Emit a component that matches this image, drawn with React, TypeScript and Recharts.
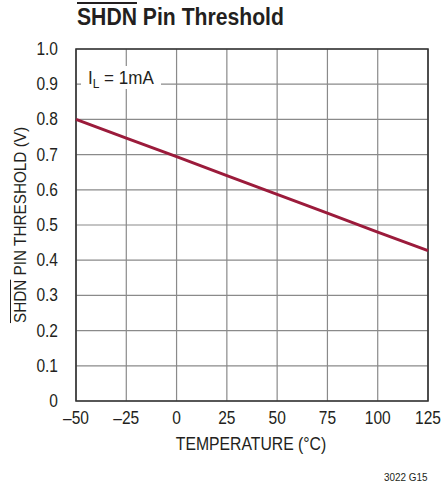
import React from "react";
import { LineChart, Line, XAxis, YAxis, CartesianGrid, ReferenceArea } from "recharts";

const temps = [-50, -25, 0, 25, 50, 75, 100, 125];
const threshold = [0.8, 0.747, 0.694, 0.64, 0.587, 0.534, 0.48, 0.427];
const xTicks = [-50, -25, 0, 25, 50, 75, 100, 125];
const yTicks = [0, 0.1, 0.2, 0.3, 0.4, 0.5, 0.6, 0.7, 0.8, 0.9, 1.0];

const data = temps.map((t, i) => ({ t, v: threshold[i] }));

const FONT = '"Liberation Sans", Arial, sans-serif';
const INK = "#231f20";
const SQUEEZE = 0.84;

const fmtX = (v: number) => (v < 0 ? "\u2013" + Math.abs(v) : String(v));
const fmtY = (v: number) => (v === 0 ? "0" : v.toFixed(1));

// condensed tick text, the font in the original is a narrow sans
function XTick(props: any) {
  const { x, y, payload } = props;
  return (
    <g transform={`translate(${x},${y})`}>
      <text transform={`scale(${SQUEEZE},1)`} textAnchor="middle" dy={14} fill={INK} fontSize={18.5} fontFamily={FONT}>
        {fmtX(payload.value)}
      </text>
    </g>
  );
}

function YTick(props: any) {
  const { x, y, payload } = props;
  return (
    <g transform={`translate(${x},${y})`}>
      <text transform={`scale(${SQUEEZE},1)`} textAnchor="end" dy={6} fill={INK} fontSize={18.5} fontFamily={FONT}>
        {fmtY(payload.value)}
      </text>
    </g>
  );
}

export default function App() {
  return (
    <div style={{ position: "absolute", left: 0, top: 0, width: 443, height: 487, background: "#fff", fontFamily: FONT, color: INK }}>
      <LineChart width={443} height={487} data={data} margin={{ top: 49, right: 15, left: 0, bottom: 0 }}>
        <CartesianGrid stroke="#8a8a8a" strokeWidth={1.2} vertical horizontal />
        <XAxis
          dataKey="t"
          type="number"
          domain={[-50, 125]}
          ticks={xTicks}
          height={86}
          axisLine={false}
          tickLine={false}
          tickMargin={3}
          tick={<XTick />}
        />
        <YAxis
          type="number"
          domain={[0, 1]}
          ticks={yTicks}
          width={76}
          axisLine={false}
          tickLine={false}
          tickMargin={12}
          tick={<YTick />}
        />
        <ReferenceArea x1={-50} x2={125} y1={0} y2={1} fill="none" stroke="#333" strokeWidth={1.6} ifOverflow="visible" />
        <Line type="linear" dataKey="v" stroke="#9b1b3b" strokeWidth={3} dot={false} isAnimationActive={false} />
      </LineChart>

      <div
        style={{
          position: "absolute",
          left: 77,
          top: 4,
          fontSize: 23,
          fontWeight: 700,
          whiteSpace: "nowrap",
          transform: "scaleX(0.92)",
          transformOrigin: "0 0",
        }}
      >
        <span style={{ textDecoration: "overline" }}>SHDN</span> Pin Threshold
      </div>

      <div style={{ position: "absolute", left: 81, top: 66, width: 80, height: 23, background: "#fff" }} />
      <div
        style={{
          position: "absolute",
          left: 88,
          top: 66,
          fontSize: 18.5,
          lineHeight: "23px",
          whiteSpace: "nowrap",
          transform: "scaleX(0.92)",
          transformOrigin: "0 0",
        }}
      >
        I<sub style={{ fontSize: 13, verticalAlign: "-4px" }}>L</sub> = 1mA
      </div>

      <div
        style={{
          position: "absolute",
          left: 21,
          top: 225,
          transform: "translate(-50%, -50%) rotate(-90deg) scaleX(0.9)",
          fontSize: 17,
          whiteSpace: "nowrap",
        }}
      >
        <span style={{ textDecoration: "overline" }}>SHDN</span> PIN THRESHOLD (V)
      </div>

      <div
        style={{
          position: "absolute",
          left: 251,
          top: 444,
          transform: "translate(-50%, -50%) scaleX(0.9)",
          fontSize: 17.5,
          whiteSpace: "nowrap",
        }}
      >
        TEMPERATURE (°C)
      </div>

      <div style={{ position: "absolute", left: 384, top: 471, fontSize: 11, whiteSpace: "nowrap", transform: "scaleX(0.9)", transformOrigin: "0 0" }}>
        3022 G15
      </div>
    </div>
  );
}
